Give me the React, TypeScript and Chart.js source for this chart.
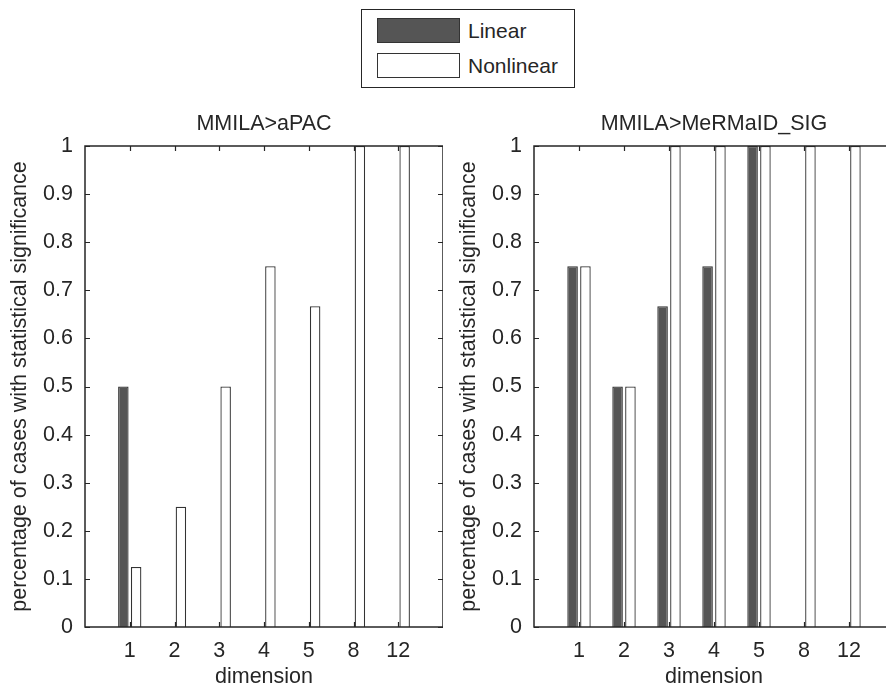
import React, { useEffect, useRef } from "react";
import { Chart, registerables } from "chart.js";

Chart.register(...registerables);

const categories = ["1", "2", "3", "4", "5", "8", "12"];
const seriesNames = ["Linear", "Nonlinear"];
const aPacLinear = [0.5, 0, 0, 0, 0, 0, 0];
const aPacNonlinear = [0.125, 0.25, 0.5, 0.75, 0.667, 1, 1];
const sigLinear = [0.75, 0.5, 0.667, 0.75, 1, 0, 0];
const sigNonlinear = [0.75, 0.5, 1, 1, 1, 1, 1];
const panelTitles = ["MMILA>aPAC", "MMILA>MeRMaID_SIG"];
const yTickLabels = ["0", "0.1", "0.2", "0.3", "0.4", "0.5", "0.6", "0.7", "0.8", "0.9", "1"];
const xAxisTitle = "dimension";
const yAxisTitle = "percentage of cases with statistical significance";

const FONT = "'Liberation Sans', Arial, Helvetica, sans-serif";
const FS = 21.5;
const TEXT = "#262626";
const AXIS = "#262626";
const LINEAR_FILL = "#555555";
const LINEAR_BORDER = "#333333";
const NONLIN_FILL = "#ffffff";
const NONLIN_BORDER = "#333333";

const boxPlugin = {
  id: "matlabBox",
  afterDatasetsDraw(chart: any) {
    const { ctx, chartArea: a, scales } = chart;
    const x = scales.x;
    const y = scales.y;
    const L = 5;
    ctx.save();
    ctx.strokeStyle = AXIS;
    ctx.lineWidth = 1.2;
    ctx.beginPath();
    for (let i = 1; i <= categories.length; i++) {
      const px = Math.round(x.getPixelForValue(i)) + 0.5;
      ctx.moveTo(px, a.bottom);
      ctx.lineTo(px, a.bottom - L);
      ctx.moveTo(px, a.top);
      ctx.lineTo(px, a.top + L);
    }
    y.ticks.forEach((t: any) => {
      const py = Math.round(y.getPixelForValue(t.value)) + 0.5;
      ctx.moveTo(a.left, py);
      ctx.lineTo(a.left + L, py);
      ctx.moveTo(a.right, py);
      ctx.lineTo(a.right - L, py);
    });
    ctx.stroke();
    ctx.lineWidth = 1.5;
    ctx.strokeRect(a.left, a.top, a.right - a.left, a.bottom - a.top);
    ctx.restore();
  },
};

function makeConfig(title: string, linear: number[], nonlinear: number[]): any {
  const labels = ["", ...categories, ""];
  const pad = (arr: number[]) => [null, ...arr, null];
  return {
    type: "bar",
    data: {
      labels,
      datasets: [
        {
          label: seriesNames[0],
          data: pad(linear),
          backgroundColor: LINEAR_FILL,
          borderColor: LINEAR_BORDER,
          borderWidth: 1.3,
          categoryPercentage: 0.572,
          barPercentage: 0.82,
        },
        {
          label: seriesNames[1],
          data: pad(nonlinear),
          backgroundColor: NONLIN_FILL,
          borderColor: NONLIN_BORDER,
          borderWidth: 1.3,
          categoryPercentage: 0.572,
          barPercentage: 0.82,
        },
      ],
    },
    options: {
      animation: false,
      responsive: false,
      maintainAspectRatio: false,
      layout: { padding: 0 },
      plugins: {
        legend: { display: false },
        tooltip: { enabled: false },
        title: {
          display: true,
          text: title,
          fullSize: false,
          color: TEXT,
          font: { family: FONT, size: FS, weight: "normal", lineHeight: 1.2 },
          padding: { top: 16.6, bottom: 8.6 },
        },
      },
      scales: {
        x: {
          type: "category",
          offset: false,
          grid: { display: false, drawTicks: false },
          border: { display: false },
          ticks: {
            color: TEXT,
            font: { family: FONT, size: FS },
            padding: 11,
            autoSkip: false,
            maxRotation: 0,
          },
          title: {
            display: true,
            text: xAxisTitle,
            color: TEXT,
            font: { family: FONT, size: FS, lineHeight: 1.2 },
            padding: { top: 0, bottom: -2 },
          },
          afterFit(s: any) {
            s.height = 61;
            s.paddingLeft = 0;
            s.paddingRight = 0;
          },
        },
        y: {
          min: 0,
          max: 1,
          grid: { display: false, drawTicks: false },
          border: { display: false },
          ticks: {
            stepSize: 0.1,
            color: TEXT,
            font: { family: FONT, size: FS },
            padding: 12,
            callback: (_v: any, i: number) => yTickLabels[i],
          },
          title: {
            display: true,
            text: yAxisTitle,
            color: TEXT,
            font: { family: FONT, size: FS, lineHeight: 1.2 },
            padding: { top: 7.1, bottom: 0 },
          },
          afterFit(s: any) {
            s.width = 85;
          },
        },
      },
    },
    plugins: [boxPlugin],
  };
}

function Panel(props: { left: number; width: number; title: string; linear: number[]; nonlinear: number[] }) {
  const ref = useRef<HTMLCanvasElement | null>(null);
  useEffect(() => {
    if (!ref.current) return;
    const chart = new Chart(ref.current, makeConfig(props.title, props.linear, props.nonlinear));
    return () => chart.destroy();
  }, []);
  return (
    <canvas
      ref={ref}
      width={props.width}
      height={593}
      style={{ position: "absolute", left: props.left, top: 95, width: props.width, height: 593 }}
    />
  );
}

function LegendBox() {
  const swatch = (top: number, fill: string): React.CSSProperties => ({
    position: "absolute",
    left: 15,
    top,
    width: 83,
    height: 25,
    boxSizing: "border-box",
    background: fill,
    border: "1.3px solid #333333",
  });
  const label = (top: number): React.CSSProperties => ({
    position: "absolute",
    left: 106,
    top,
    fontFamily: FONT,
    fontSize: 21,
    lineHeight: "25px",
    color: TEXT,
    whiteSpace: "nowrap",
  });
  return (
    <div
      style={{
        position: "absolute",
        left: 361,
        top: 9,
        width: 214,
        height: 79,
        boxSizing: "border-box",
        border: "1.5px solid #262626",
        background: "#fff",
      }}
    >
      <div style={swatch(8, LINEAR_FILL)} />
      <div style={label(8)}>{seriesNames[0]}</div>
      <div style={swatch(43, NONLIN_FILL)} />
      <div style={label(43)}>{seriesNames[1]}</div>
    </div>
  );
}

export default function App() {
  return (
    <div
      style={{
        position: "absolute",
        left: 0,
        top: 0,
        width: 886,
        height: 688,
        overflow: "hidden",
        background: "#ffffff",
      }}
    >
      <Panel left={0} width={443} title={panelTitles[0]} linear={aPacLinear} nonlinear={aPacNonlinear} />
      <Panel left={449} width={445} title={panelTitles[1]} linear={sigLinear} nonlinear={sigNonlinear} />
      <LegendBox />
    </div>
  );
}
